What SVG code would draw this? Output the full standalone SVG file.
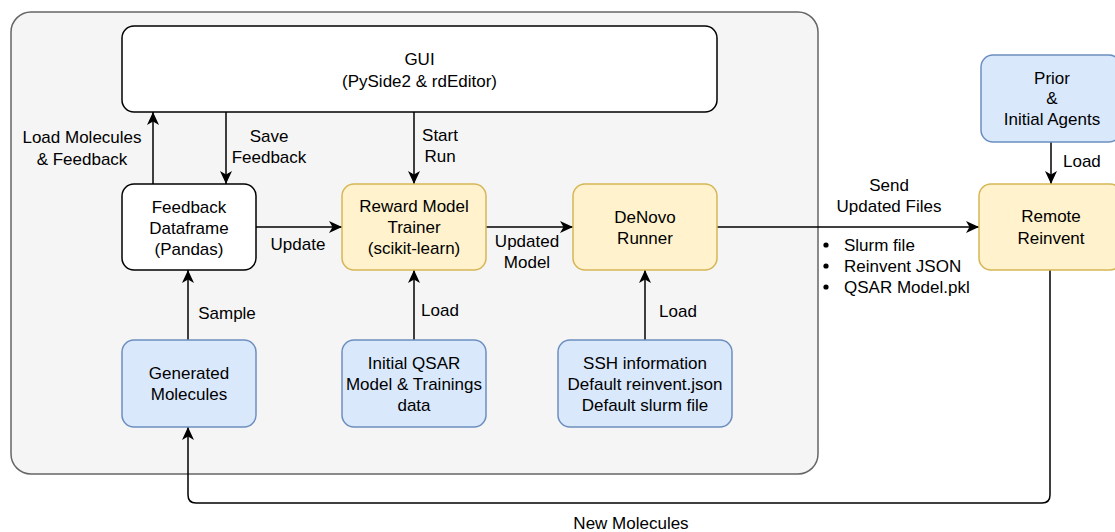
<svg xmlns="http://www.w3.org/2000/svg" width="1115" height="532" viewBox="0 0 1115 532">
  <style>
    text { font-family: "Liberation Sans", Arial, Helvetica, sans-serif; font-size: 17px; fill: #000; }
    .c { text-anchor: middle; }
    .plain { fill: #ffffff; stroke: #000000; stroke-width: 1.5; }
    .yellow { fill: #fff2cc; stroke: #d6b656; stroke-width: 1.5; }
    .blue { fill: #dae8fc; stroke: #6c8ebf; stroke-width: 1.5; }
    .edge { fill: none; stroke: #000000; stroke-width: 1.5; marker-end: url(#arrow); }
  </style>
  <defs>
    <marker id="arrow" markerUnits="userSpaceOnUse" markerWidth="14" markerHeight="12" refX="13" refY="6" orient="auto">
      <path d="M0,0 L13,6 L0,12 L3.5,6 Z" fill="#000"/>
    </marker>
  </defs>

  <!-- local application frame -->
  <g id="frame">
    <rect x="11" y="12" width="807" height="462" rx="20" ry="20" fill="#f5f5f5" stroke="#666666" stroke-width="1.5"/>
  </g>

  <!-- connectors -->
  <g id="connectors">
    <path class="edge" d="M153,184 L153,112"/>
    <path class="edge" d="M226,112 L226,184"/>
    <path class="edge" d="M414,112 L414,184"/>
    <path class="edge" d="M256,227 L342,227"/>
    <path class="edge" d="M486,227 L573,227"/>
    <path class="edge" d="M717,227 L979,227"/>
    <path class="edge" d="M1051,142 L1051,184"/>
    <path class="edge" d="M188,340 L188,270"/>
    <path class="edge" d="M414,340 L414,270"/>
    <path class="edge" d="M645,340 L645,270"/>
    <path class="edge" d="M1050,270 L1050,495 Q1050,503 1042,503 L196,503 Q188,503 188,495 L188,427"/>

    <!-- connector labels -->
    <text class="c" x="82" y="143">Load Molecules</text>
    <text class="c" x="82" y="165">&amp; Feedback</text>
    <text class="c" x="269" y="142">Save</text>
    <text class="c" x="269" y="163">Feedback</text>
    <text class="c" x="440" y="141">Start</text>
    <text class="c" x="440" y="162">Run</text>
    <text class="c" x="298" y="250">Update</text>
    <text class="c" x="527" y="247">Updated</text>
    <text class="c" x="527" y="268">Model</text>
    <text class="c" x="889" y="191">Send</text>
    <text class="c" x="889" y="212">Updated Files</text>
    <circle cx="826" cy="245" r="2.6" fill="#000"/>
    <circle cx="826" cy="266" r="2.6" fill="#000"/>
    <circle cx="826" cy="287" r="2.6" fill="#000"/>
    <text x="844" y="251">Slurm file</text>
    <text x="844" y="272">Reinvent JSON</text>
    <text x="844" y="293">QSAR Model.pkl</text>
    <text x="1063" y="167">Load</text>
    <text class="c" x="227" y="319">Sample</text>
    <text class="c" x="440" y="316">Load</text>
    <text class="c" x="678" y="317">Load</text>
    <text class="c" x="631" y="529">New Molecules</text>
  </g>

  <g id="gui">
    <rect class="plain" x="122" y="26" width="595" height="86" rx="12" ry="12"/>
    <text class="c" x="419.5" y="65">GUI</text>
    <text class="c" x="419.5" y="87">(PySide2 &amp; rdEditor)</text>
  </g>

  <g id="feedback-dataframe">
    <rect class="plain" x="122" y="184" width="134" height="86" rx="12" ry="12"/>
    <text class="c" x="189" y="212.5">Feedback</text>
    <text class="c" x="189" y="233.5">Dataframe</text>
    <text class="c" x="189" y="254.5">(Pandas)</text>
  </g>

  <g id="reward-model-trainer">
    <rect class="yellow" x="342" y="184" width="144" height="86" rx="12" ry="12"/>
    <text class="c" x="414" y="212">Reward Model</text>
    <text class="c" x="414" y="233">Trainer</text>
    <text class="c" x="414" y="254">(scikit-learn)</text>
  </g>

  <g id="denovo-runner">
    <rect class="yellow" x="573" y="184" width="144" height="86" rx="12" ry="12"/>
    <text class="c" x="645" y="222.5">DeNovo</text>
    <text class="c" x="645" y="243.5">Runner</text>
  </g>

  <g id="remote-reinvent">
    <rect class="yellow" x="979" y="184" width="143" height="86" rx="12" ry="12"/>
    <text class="c" x="1051" y="222">Remote</text>
    <text class="c" x="1051" y="243.5">Reinvent</text>
  </g>

  <g id="prior-agents">
    <rect class="blue" x="981" y="55" width="140" height="87" rx="12" ry="12"/>
    <text class="c" x="1052" y="83.5">Prior</text>
    <text class="c" x="1052" y="104">&amp;</text>
    <text class="c" x="1052" y="125">Initial Agents</text>
  </g>

  <g id="generated-molecules">
    <rect class="blue" x="122" y="340" width="134" height="87" rx="12" ry="12"/>
    <text class="c" x="189" y="379">Generated</text>
    <text class="c" x="189" y="400">Molecules</text>
  </g>

  <g id="initial-qsar">
    <rect class="blue" x="342" y="340" width="144" height="87" rx="12" ry="12"/>
    <text class="c" x="414" y="368.5">Initial QSAR</text>
    <text class="c" x="414" y="389.5">Model &amp; Trainings</text>
    <text class="c" x="414" y="410.5">data</text>
  </g>

  <g id="ssh-info">
    <rect class="blue" x="558" y="340" width="174" height="87" rx="12" ry="12"/>
    <text class="c" x="645" y="368.5">SSH information</text>
    <text class="c" x="645" y="389.5">Default reinvent.json</text>
    <text class="c" x="645" y="410.5">Default slurm file</text>
  </g>
</svg>
